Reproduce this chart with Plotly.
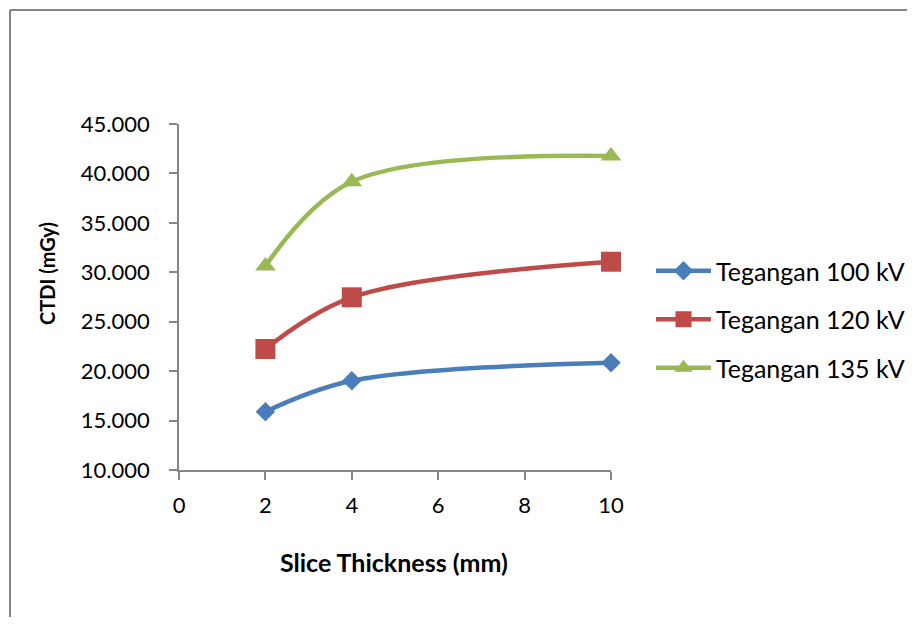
import plotly.graph_objects as go

# ---- data ----
slice_thickness = [2, 4, 10]
ctdi_100kv = [15.9, 19.03, 20.85]
ctdi_120kv = [22.24, 27.47, 31.07]
ctdi_135kv = [30.63, 39.16, 41.76]
series_names = ["Tegangan 100 kV", "Tegangan 120 kV", "Tegangan 135 kV"]
x_ticks = [0, 2, 4, 6, 8, 10]
y_ticks = [10, 15, 20, 25, 30, 35, 40, 45]
x_title = "Slice Thickness (mm)"
y_title = "CTDI (mGy)"

# ---- layout constants (figure pixel coords; page body adds 8px margin) ----
OFF = 8
W, H = 915 - 2 * OFF, 625 - 2 * OFF
L, T = 179 - OFF, 124 - OFF
RIGHT_EDGE, BOTTOM_EDGE = 611 - OFF, 470 - OFF
R, B = W - RIGHT_EDGE, H - BOTTOM_EDGE
pw, ph = W - L - R, H - T - B
FONT = "Lato"
AXC = "#868686"

def px_x(p):  # screen px -> paper
    return (p - OFF - L) / pw

def px_y(p):
    return (BOTTOM_EDGE - (p - OFF)) / ph

fig = go.Figure()
styles = [
    dict(color="#4A7EBB", symbol="diamond", size=15),
    dict(color="#BE4B48", symbol="square", size=20),
    dict(color="#98B954", symbol="triangle-up", size=18),
]
for name, ys, st in zip(series_names, [ctdi_100kv, ctdi_120kv, ctdi_135kv], styles):
    fig.add_trace(go.Scatter(
        x=slice_thickness, y=ys, name=name, mode="lines+markers",
        line=dict(color=st["color"], width=4.5, shape="spline", smoothing=1.0),
        marker=dict(color=st["color"], symbol=st["symbol"], size=st["size"],
                    line=dict(width=0)),
        cliponaxis=False, legendgroup=name,
    ))

fig.update_layout(
    width=W, height=H,
    margin=dict(l=L, r=R, t=T, b=B, pad=0, autoexpand=False),
    paper_bgcolor="white", plot_bgcolor="white",
    font=dict(family=FONT, size=22, color="#000000"),
    showlegend=True,
    legend=dict(x=px_x(651), xanchor="left", y=px_y(248), yanchor="top",
                bgcolor="rgba(0,0,0,0)", borderwidth=0,
                font=dict(family=FONT, size=25, color="#000000"),
                traceorder="grouped", tracegroupgap=13, itemwidth=55),
    xaxis=dict(range=[0, 10], tickvals=x_ticks, showgrid=False, zeroline=False,
               showline=True, linecolor=AXC, linewidth=1.5,
               ticks="outside", ticklen=8, tickcolor=AXC, tickwidth=1.5,
               ticklabelstandoff=7,
               tickfont=dict(family=FONT, size=22)),
    yaxis=dict(range=[10, 45], tickvals=y_ticks, tickformat=".3f", showgrid=False,
               zeroline=False, showline=True, linecolor=AXC, linewidth=1.5,
               ticks="outside", ticklen=8, tickcolor=AXC, tickwidth=1.5,
               ticklabelstandoff=15,
               tickfont=dict(family=FONT, size=22)),
    annotations=[
        dict(text="<b>" + x_title + "</b>", xref="paper", yref="paper",
             x=px_x(394), y=px_y(562), xanchor="center", yanchor="middle",
             showarrow=False, font=dict(family=FONT, size=25)),
        dict(text="<b>" + y_title + "</b>", xref="paper", yref="paper",
             x=px_x(47), y=px_y(274), xanchor="center", yanchor="middle",
             textangle=-90, showarrow=False, font=dict(family=FONT, size=20)),
    ],
    shapes=[
        dict(type="line", xref="paper", yref="paper",
             x0=px_x(10), x1=px_x(960), y0=px_y(10), y1=px_y(10),
             line=dict(color=AXC, width=2), layer="below"),
        dict(type="line", xref="paper", yref="paper",
             x0=px_x(10), x1=px_x(10), y0=px_y(10), y1=px_y(700),
             line=dict(color=AXC, width=2), layer="below"),
    ],
)

fig.write_html("out.html")
